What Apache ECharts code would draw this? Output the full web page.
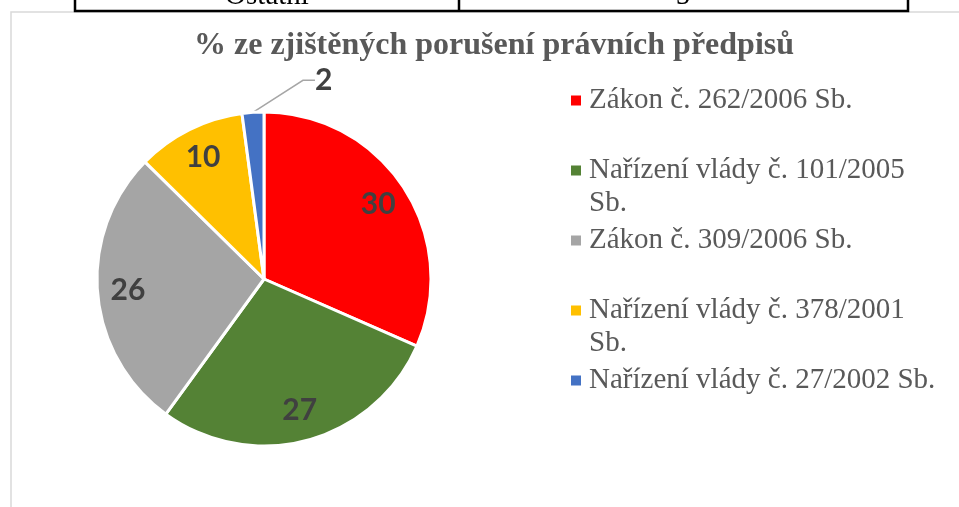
<!DOCTYPE html>
<html>
<head>
<meta charset="utf-8">
<script src="https://cdn.jsdelivr.net/npm/echarts@6/dist/echarts.min.js"></script>
<style>
  html, body { margin: 0; padding: 0; background: #fff; }
  #chart { width: 959px; height: 507px; }
</style>
</head>
<body>
<div id="chart"></div>
<script>
const titleText = '% ze zjištěných porušení právních předpisů'
const categories = [
  'Zákon č. 262/2006 Sb.',
  'Nařízení vlády č. 101/2005 Sb.',
  'Zákon č. 309/2006 Sb.',
  'Nařízení vlády č. 378/2001 Sb.',
  'Nařízení vlády č. 27/2002 Sb.'
]
const values = [30, 27, 26, 10, 2]
const colors = ['#FF0000', '#548235', '#A5A5A5', '#FFC000', '#4472C4']
// row of the table above the chart (cut off by the crop)
const tableRow = ['Ostatní', '5']

const chart = echarts.init(document.getElementById('chart'))

const center = [264, 279]
const R = 167

// every legend entry gets two lines so the entries are evenly spaced
function legendText(name) {
  if (name.length >= 30) {
    const k = name.lastIndexOf(' ')
    return name.slice(0, k) + '\n' + name.slice(k + 1)
  }
  return name + '\n\u00a0'
}

chart.setOption({
  animation: false,
  color: colors,
  title: {
    text: titleText,
    left: 194,
    top: 28,
    padding: 0,
    textStyle: {
      fontFamily: 'Liberation Serif',
      fontSize: 32,
      fontWeight: 'bold',
      color: '#595959',
      lineHeight: 36
    }
  },
  legend: {
    orient: 'vertical',
    left: 571,
    top: 83,
    padding: 0,
    itemGap: 2,
    itemWidth: 13,
    itemHeight: 68,
    symbolKeepAspect: false,
    // square sits on the first text line
    icon: 'path://M0,0h13M0,12.5h10v10h-10zM0,68h13',
    itemStyle: { borderWidth: 0 },
    selectedMode: false,
    data: categories,
    formatter: legendText,
    textStyle: {
      fontFamily: 'Liberation Serif',
      fontSize: 29,
      lineHeight: 33,
      color: '#595959'
    }
  },
  graphic: [
    {
      type: 'rect', silent: true,
      shape: { x: 11, y: 12, width: 1000, height: 600 },
      style: { fill: 'none', stroke: '#d9d9d9', lineWidth: 1.5 }
    },
    {
      type: 'polyline', silent: true,
      shape: { points: [[75, -2], [75, 11], [908, 11], [908, -2]] },
      style: { fill: 'none', stroke: '#000', lineWidth: 2.5 }
    },
    {
      type: 'line', silent: true,
      shape: { x1: 459, y1: -2, x2: 459, y2: 11 },
      style: { stroke: '#000', lineWidth: 2.5 }
    },
    {
      type: 'text', silent: true, x: 267, y: 11,
      style: { text: tableRow[0], fontFamily: 'Liberation Serif', fontSize: 29, fill: '#000', align: 'center', verticalAlign: 'bottom' }
    },
    {
      type: 'text', silent: true, x: 683, y: 11,
      style: { text: tableRow[1], fontFamily: 'Liberation Serif', fontSize: 29, fill: '#000', align: 'center', verticalAlign: 'bottom' }
    }
  ],
  series: [
    {
      type: 'pie',
      center: center,
      radius: R,
      startAngle: 90,
      clockwise: true,
      silent: true,
      label: { show: false },
      labelLine: { show: false },
      itemStyle: { borderColor: '#fff', borderWidth: 3 },
      data: categories.map((n, i) => ({ name: n, value: values[i] }))
    },
    {
      // label carrier: labels sit at ~0.8 of the radius like in Excel
      type: 'pie',
      center: center,
      radius: [100, R],
      startAngle: 90,
      clockwise: true,
      silent: true,
      itemStyle: { color: 'rgba(0,0,0,0)', borderWidth: 0 },
      label: {
        show: true,
        position: 'inside',
        formatter: '{c}',
        fontFamily: 'Lato',
        fontWeight: 'bold',
        fontSize: 30,
        color: '#404040'
      },
      labelLine: {
        show: true,
        length: 28,
        length2: 12,
        lineStyle: { color: '#A6A6A6', width: 1.5 }
      },
      labelLayout: function (p) {
        if (p.dataIndex !== 4 || !p.labelLinePoints) return {}
        return {
          x: p.labelLinePoints[0][0] + 62,
          y: p.labelLinePoints[0][1] - 32,
          align: 'left',
          verticalAlign: 'middle'
        }
      },
      data: categories.map((n, i) => ({
        name: n,
        value: values[i],
        label: values[i] < 5 ? { position: 'outside' } : {},
        labelLine: { show: values[i] < 5 }
      }))
    }
  ]
})
</script>
</body>
</html>
